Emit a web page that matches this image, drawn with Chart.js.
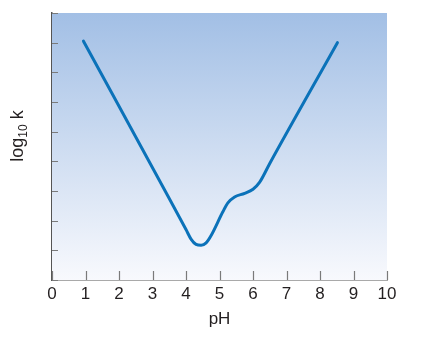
<!DOCTYPE html>
<html>
<head>
<meta charset="utf-8">
<script src="https://cdn.jsdelivr.net/npm/chart.js@4/dist/chart.umd.min.js"></script>
<style>
html,body{margin:0;padding:0;background:#fff;}
#wrap{width:436px;height:343px;}
</style>
</head>
<body>
<div id="wrap"><canvas id="c" width="436" height="343"></canvas></div>
<script>
// Data
const phValues   = [0.94, 3.5, 4.0, 4.15, 4.3, 4.45, 4.6, 4.75, 5.1, 5.25, 5.45, 5.75, 6.0, 6.2, 6.5, 8.52];
const logKValues = [8.05, 2.75, 1.7, 1.38, 1.2, 1.17, 1.25, 1.5, 2.3, 2.6, 2.8, 2.92, 3.06, 3.3, 3.93, 8.0];
const xTickValues = [0,1,2,3,4,5,6,7,8,9,10];
const yTickValues = [0,1,2,3,4,5,6,7,8,9];
const xTitle = 'pH';
const yTitleParts = ['log', '10', ' k'];

const points = phValues.map((x,i)=>({x:x, y:logKValues[i]}));
const FONT = 'Liberation Sans, Arial, sans-serif';

const bgAndTicks = {
  id:'bgAndTicks',
  beforeDatasetsDraw(chart){
    const {ctx, chartArea:a} = chart;
    const g = ctx.createLinearGradient(0,a.top,0,a.bottom);
    g.addColorStop(0,'#a2bfe5');
    g.addColorStop(1,'#f8f9fd');
    ctx.save();
    ctx.fillStyle = g;
    ctx.fillRect(a.left,a.top,a.right-a.left,a.bottom-a.top);
    // inward tick marks
    const xs = chart.scales.x, ys = chart.scales.y;
    ctx.strokeStyle = '#7a7a7a';
    ctx.lineWidth = 1.2;
    ctx.beginPath();
    xTickValues.forEach(v=>{
      const px = Math.round(xs.getPixelForValue(v))+0.5;
      ctx.moveTo(px, a.bottom);
      ctx.lineTo(px, a.bottom-9);
    });
    yTickValues.forEach(v=>{
      const py = Math.round(ys.getPixelForValue(v))+0.5;
      ctx.moveTo(a.left, py);
      ctx.lineTo(a.left+6, py);
    });
    ctx.stroke();
    ctx.restore();
  },
  afterDraw(chart){
    // y axis title with a real subscript
    const ctx = chart.ctx;
    const big = '18px ' + FONT, small = '12px ' + FONT;
    ctx.save();
    ctx.font = big;  const w0 = ctx.measureText(yTitleParts[0]).width;
    ctx.font = small; const w1 = ctx.measureText(yTitleParts[1]).width;
    ctx.font = big;  const w2 = ctx.measureText(yTitleParts[2]).width;
    const total = w0 + w1 + w2;
    const cx = 17, cy = 136;
    ctx.translate(cx, cy);
    ctx.rotate(-Math.PI/2);
    ctx.fillStyle = '#231f20';
    ctx.textBaseline = 'alphabetic';
    ctx.textAlign = 'left';
    const base = 6;
    let x = -total/2;
    ctx.font = big;  ctx.fillText(yTitleParts[0], x, base); x += w0;
    ctx.font = small; ctx.fillText(yTitleParts[1], x, base + 4); x += w1;
    ctx.font = big;  ctx.fillText(yTitleParts[2], x, base);
    ctx.restore();
  }
};

new Chart(document.getElementById('c'),{
  type:'line',
  data:{datasets:[{
    data:points,
    borderColor:'#0b72b9',
    borderWidth:3,
    pointRadius:0,
    fill:false,
    cubicInterpolationMode:'monotone',
    borderCapStyle:'round'
  }]},
  options:{
    responsive:false,
    animation:false,
    devicePixelRatio:1,
    layout:{padding:{top:13,right:49,left:0,bottom:0}},
    plugins:{legend:{display:false},tooltip:{enabled:false}},
    scales:{
      x:{
        type:'linear',min:0,max:10,
        afterBuildTicks(s){ s.ticks = xTickValues.map(v=>({value:v})); },
        afterFit(s){ s.height = 63; },
        grid:{display:false,drawTicks:false},
        border:{display:true,color:'#555',width:1.5},
        ticks:{padding:4,color:'#231f20',font:{family:FONT,size:17},maxRotation:0,autoSkip:false},
        title:{display:true,text:xTitle,color:'#231f20',font:{family:FONT,size:17},padding:{top:0,bottom:13}}
      },
      y:{
        type:'linear',min:0,max:9,
        afterBuildTicks(s){ s.ticks = yTickValues.map(v=>({value:v})); },
        afterFit(s){ s.width = 52; },
        grid:{display:false,drawTicks:false},
        border:{display:true,color:'#555',width:1.5},
        ticks:{display:false},
        title:{display:false}
      }
    }
  },
  plugins:[bgAndTicks]
});
</script>
</body>
</html>
